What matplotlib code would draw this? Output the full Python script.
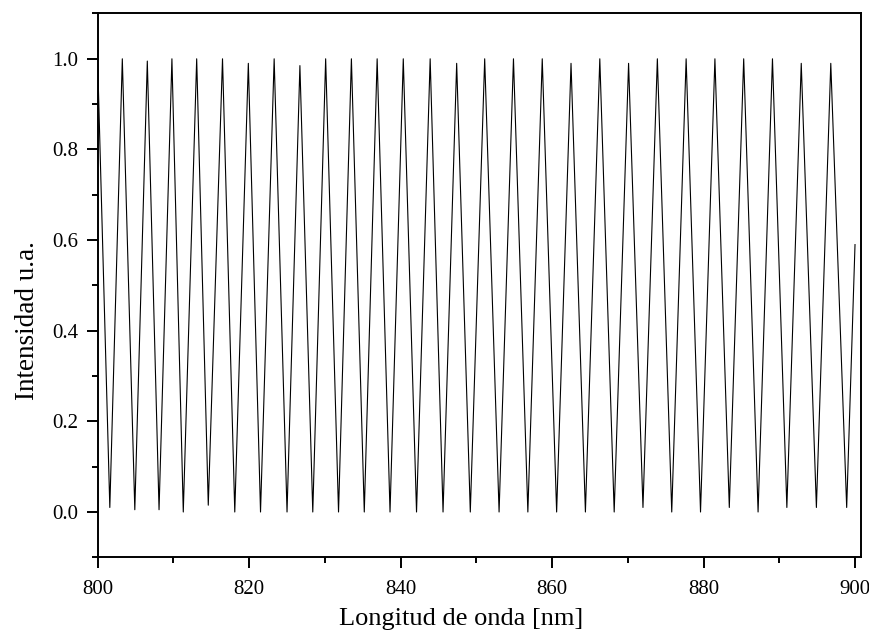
import numpy as np
import matplotlib.pyplot as plt

# fringe maxima / minima (wavelength in nm, intensity a.u.)
peak_nm = [800.0, 803.25, 806.55, 809.8, 813.07, 816.48, 819.89, 823.3, 826.7,
           830.1, 833.5, 836.9, 840.35, 843.9, 847.4, 851.1, 854.9, 858.7,
           862.5, 866.3, 870.1, 873.9, 877.7, 881.5, 885.3, 889.1, 892.9, 896.8]
peak_val = [0.99, 1.0, 0.995, 1.0, 1.0, 1.0, 0.99, 1.0, 0.985, 1.0, 1.0, 1.0,
            1.0, 1.0, 0.99, 1.0, 1.0, 1.0, 0.99, 1.0, 0.99, 1.0, 1.0, 1.0,
            1.0, 1.0, 0.99, 0.99]
trough_nm = [801.6, 804.9, 808.1, 811.3, 814.6, 818.1, 821.5, 825.0, 828.4,
             831.8, 835.2, 838.6, 842.1, 845.6, 849.2, 853.0, 856.8, 860.6,
             864.4, 868.2, 872.0, 875.8, 879.6, 883.4, 887.2, 891.0, 894.9, 898.9]
trough_val = [0.01, 0.005, 0.005, 0.0, 0.015, 0.0, 0.0, 0.0, 0.0, 0.0, 0.0, 0.0,
              0.0, 0.0, 0.0, 0.0, 0.0, 0.0, 0.0, 0.0, 0.01, 0.0, 0.0, 0.01,
              0.0, 0.01, 0.01, 0.01]
end_nm, end_val = 900.0, 0.59

# interleave max/min into one trace
x = []
y = []
for p, pv, t, tv in zip(peak_nm, peak_val, trough_nm, trough_val):
    x += [p, t]
    y += [pv, tv]
x.append(end_nm)
y.append(end_val)

plt.rcParams['font.family'] = ['Liberation Serif', 'DejaVu Serif']

fig = plt.figure(figsize=(8.7, 6.42), dpi=100)
ax = fig.add_axes([0.1123, 0.1319, 0.8777, 0.8471])
ax.plot(x, y, color="black", linewidth=0.8)

ax.set_xlim(800, 900.83)
ax.set_ylim(-0.1, 1.1)
ax.set_xticks(np.arange(800, 901, 20))
ax.set_xticks(np.arange(810, 901, 20), minor=True)
ax.set_yticks(np.arange(0, 1.01, 0.2))
ax.set_yticks([-0.1, 0.1, 0.3, 0.5, 0.7, 0.9, 1.1], minor=True)
ax.set_yticklabels(["0.0", "0.2", "0.4", "0.6", "0.8", "1.0"])

for s in ax.spines.values():
    s.set_linewidth(1.4)
ax.tick_params(which="major", direction="out", length=8, width=1.4, labelsize=15)
ax.tick_params(axis="x", which="major", pad=8)
ax.tick_params(axis="y", which="major", pad=6)
ax.tick_params(which="minor", direction="out", length=4.5, width=1.4)
ax.tick_params(top=False, right=False)

ax.set_xlabel("Longitud de onda [nm]", fontsize=19)
ax.set_ylabel("Intensidad u.a.", fontsize=19.5)
ax.xaxis.set_label_coords(0.476, -0.094)
ax.yaxis.set_label_coords(-0.076, 0.436)

plt.savefig("out.png", dpi=100)
